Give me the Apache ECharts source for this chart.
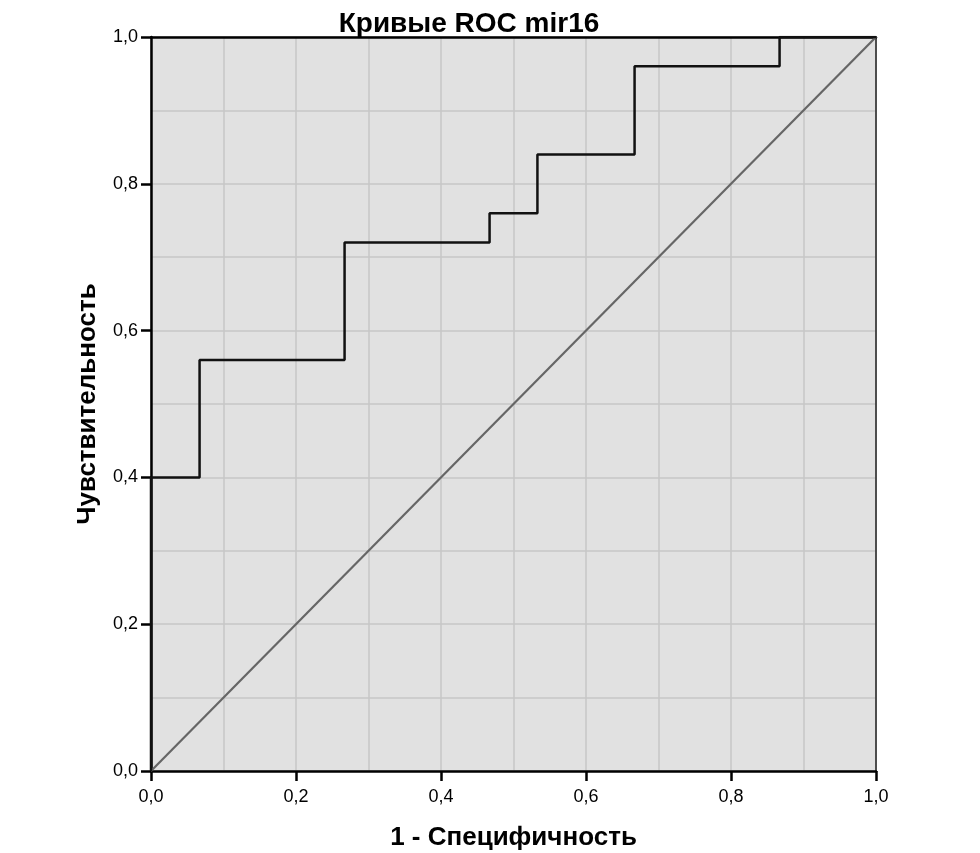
<!DOCTYPE html>
<html>
<head>
<meta charset="utf-8">
<script src="https://cdn.jsdelivr.net/npm/echarts@6/dist/echarts.min.js"></script>
<style>html,body{margin:0;padding:0;background:#fff}#c{width:980px;height:853px}</style>
</head>
<body>
<div id="c"></div>
<script>
var titleText = 'Кривые ROC mir16';
var xName = '1 - Специфичность';
var yName = 'Чувствительность';
var rocFpr = [0, 0, 0.067, 0.267, 0.467, 0.533, 0.667, 0.867, 1.0];
var rocTpr = [0, 0.4, 0.56, 0.72, 0.76, 0.84, 0.96, 1.0, 1.0];
var refX = [0, 1];
var refY = [0, 1];

var rocData = rocFpr.map(function (x, i) { return [x, rocTpr[i]]; });
var refData = refX.map(function (x, i) { return [x, refY[i]]; });
var fmt = function (v) { return v.toFixed(1).replace('.', ','); };
var font = 'Liberation Sans, Arial, sans-serif';

var frameAxis = function (pos, w, c) {
  return {
    type: 'value', min: 0, max: 1, position: pos,
    axisLine: { show: true, onZero: false, lineStyle: { color: c, width: w } },
    axisTick: { show: false }, axisLabel: { show: false },
    splitLine: { show: false }
  };
};

var chart = echarts.init(document.getElementById('c'));
chart.setOption({
  animation: false,
  title: {
    text: titleText, left: 464, top: 5, textAlign: 'center',
    textStyle: { fontFamily: font, fontSize: 28, fontWeight: 'bold', color: '#000' }
  },
  grid: {
    left: 151, right: 104, top: 37, bottom: 82,
    outerBoundsMode: 'none', containLabel: false,
    show: true, backgroundColor: '#e1e1e1', borderColor: '#111', borderWidth: 0
  },
  xAxis: [{
    type: 'value', min: 0, max: 1, interval: 0.2, position: 'bottom',
    name: xName, nameLocation: 'middle', nameGap: 54,
    nameTextStyle: { fontFamily: font, fontSize: 26, fontWeight: 'bold', color: '#000' },
    axisLine: { show: true, onZero: false, lineStyle: { color: '#000', width: 2.5 } },
    axisTick: { show: true, inside: false, length: 10, lineStyle: { color: '#000', width: 2.5 } },
    axisLabel: { formatter: fmt, fontFamily: font, fontSize: 18, color: '#000', margin: 17 },
    splitLine: { show: true, lineStyle: { color: '#c6c6c6', width: 1.5 } },
    minorTick: { show: false, splitNumber: 2 },
    minorSplitLine: { show: true, lineStyle: { color: '#c6c6c6', width: 1.5 } }
  }, frameAxis('top', 2.5, '#000')],
  yAxis: [{
    type: 'value', min: 0, max: 1, interval: 0.2, position: 'left',
    name: yName, nameLocation: 'middle', nameGap: 50,
    nameTextStyle: { fontFamily: font, fontSize: 26, fontWeight: 'bold', color: '#000' },
    axisLine: { show: true, onZero: false, lineStyle: { color: '#000', width: 2.5 } },
    axisTick: { show: true, inside: false, length: 10, lineStyle: { color: '#000', width: 2.5 } },
    axisLabel: { formatter: fmt, fontFamily: font, fontSize: 18, color: '#000', margin: 13 },
    splitLine: { show: true, lineStyle: { color: '#c6c6c6', width: 1.5 } },
    minorTick: { show: false, splitNumber: 2 },
    minorSplitLine: { show: true, lineStyle: { color: '#c6c6c6', width: 1.5 } }
  }, frameAxis('right', 1.5, '#222')],
  series: [
    {
      type: 'line', data: refData, symbol: 'none', silent: true,
      lineStyle: { color: '#666', width: 2.2 }
    },
    {
      type: 'line', data: rocData, step: 'end', symbol: 'none', silent: true,
      lineStyle: { color: '#111', width: 2.5 }
    }
  ]
});
</script>
</body>
</html>
